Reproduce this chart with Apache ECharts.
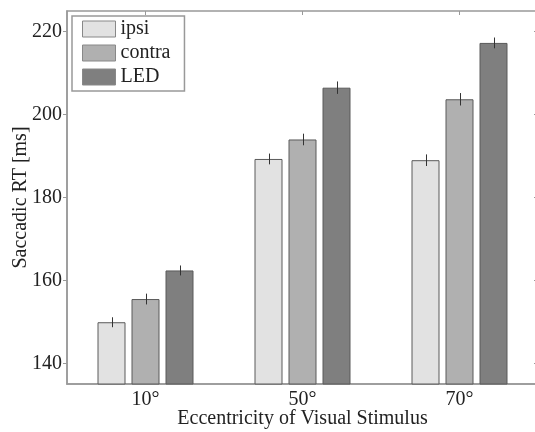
<!DOCTYPE html>
<html><head><meta charset="utf-8">
<script src="https://cdn.jsdelivr.net/npm/echarts@6/dist/echarts.min.js"></script>
<style>html,body{margin:0;padding:0;background:#fff}#c{width:535px;height:432px}</style>
</head><body><div id="c"></div>
<script>
const categories = ['10°', '50°', '70°'];
const seriesNames = ['ipsi', 'contra', 'LED'];
const ipsi = [149.9, 189.3, 189.0];
const contra = [155.5, 194.0, 203.7];
const led = [162.4, 206.5, 217.3];
const ipsiErr = [1.2, 1.3, 1.4];
const contraErr = [1.3, 1.4, 1.5];
const ledErr = [1.2, 1.5, 1.3];
const yTicks = [140, 160, 180, 200, 220];

const colors = ['#e2e2e2', '#b0b0b0', '#7f7f7f'];
const values = [ipsi, contra, led];
const errs = [ipsiErr, contraErr, ledErr];
const font = '"Liberation Serif", "DejaVu Serif", serif';
const BAR_W = 28, GAP = 6;

const chart = echarts.init(document.getElementById('c'), null, {renderer: 'canvas'});
const series = [];
seriesNames.forEach((n, i) => {
  series.push({
    name: n, type: 'bar', data: values[i], barWidth: BAR_W, barGap: (GAP / BAR_W * 100) + '%',
    itemStyle: {color: colors[i], borderColor: '#5a5a5a', borderWidth: 1}
  });
});
seriesNames.forEach((n, i) => {
  series.push({
    type: 'custom', silent: true, z: 5,
    data: values[i].map((v, k) => [k, v - errs[i][k], v + errs[i][k]]),
    renderItem: function (params, api) {
      const lo = api.coord([api.value(0), api.value(1)]);
      const hi = api.coord([api.value(0), api.value(2)]);
      const off = (i - 1) * (BAR_W + GAP);
      const x = Math.round(lo[0] + off) + 0.5;
      return {type: 'line', shape: {x1: x, y1: lo[1], x2: x, y2: hi[1]}, style: {stroke: '#333', lineWidth: 1}};
    }
  });
});

chart.setOption({
  animation: false,
  textStyle: {fontFamily: font},
  grid: {left: 67, top: 11, width: 471, height: 373, show: true, borderColor: '#999', borderWidth: 1.5,
         outerBoundsMode: 'none', containLabel: false},
  legend: {
    left: 72, top: 16, orient: 'vertical', icon: 'rect', itemWidth: 33, itemHeight: 16, itemGap: 4, itemTextGap: 12,
    padding: [3, 14, 4, 10], borderColor: '#999', borderWidth: 1.5, borderRadius: 0, backgroundColor: '#fff',
    textStyle: {fontFamily: font, fontSize: 20, color: '#222', lineHeight: 20},
    data: seriesNames.map((n, i) => ({name: n, itemStyle: {color: colors[i], borderColor: '#888', borderWidth: 1}}))
  },
  xAxis: [{
    type: 'category', data: categories, position: 'bottom',
    axisLine: {lineStyle: {color: '#999', width: 1.5}},
    axisTick: {show: false},
    axisLabel: {fontFamily: font, fontSize: 20, color: '#222', margin: 6},
    name: 'Eccentricity of Visual Stimulus', nameLocation: 'middle', nameGap: 25, nameMoveOverlap: false,
    nameTextStyle: {fontFamily: font, fontSize: 20, color: '#222'}
  }, {
    type: 'category', data: categories, position: 'top',
    axisLine: {show: false},
    axisTick: {show: true, inside: true, length: 4, alignWithLabel: true, lineStyle: {color: '#999'}},
    axisLabel: {show: false}
  }],
  yAxis: [{
    type: 'value', min: 135, max: 225, position: 'left',
    axisLine: {show: true, lineStyle: {color: '#999', width: 1.5}},
    axisTick: {show: true, length: 4, customValues: yTicks, lineStyle: {color: '#999'}},
    axisLabel: {customValues: yTicks, fontFamily: font, fontSize: 20, color: '#222', margin: 5},
    splitLine: {show: false},
    name: 'Saccadic RT [ms]', nameLocation: 'middle', nameGap: 36, nameMoveOverlap: false,
    nameTextStyle: {fontFamily: font, fontSize: 20, color: '#222'}
  }, {
    type: 'value', min: 135, max: 225, position: 'right',
    axisLine: {show: false},
    axisTick: {show: true, inside: true, length: 4, customValues: yTicks, lineStyle: {color: '#999'}},
    axisLabel: {show: false},
    splitLine: {show: false}
  }],
  series: series
});
</script></body></html>
